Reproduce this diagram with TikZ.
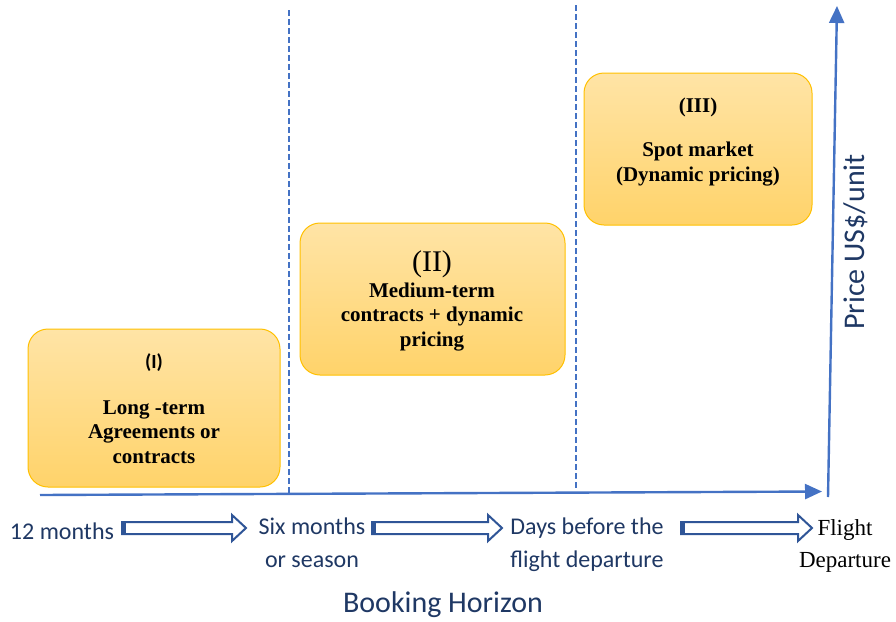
\documentclass[tikz,border=0pt]{standalone}
\usepackage{fontspec}
\setmainfont{Liberation Serif}
\newfontfamily\calfont{Carlito}
\usetikzlibrary{arrows.meta}
\definecolor{axisblue}{HTML}{4472C4}
\definecolor{navy}{HTML}{1F3864}
\definecolor{arrownavy}{HTML}{2F5597}
\definecolor{boxtop}{HTML}{FFE4A6}
\definecolor{boxbot}{HTML}{FFD36A}
\definecolor{boxline}{HTML}{FFC000}
\tikzset{
  phase/.style={draw=boxline, line width=1pt, rounded corners=20pt, top color=boxtop, bottom color=boxbot},
  axis/.style={draw=axisblue, line width=2.4pt, -{Triangle[length=17pt,width=15pt]}},
  divider/.style={draw=axisblue, line width=1.8pt, dash pattern=on 6pt off 3pt},
  boxtext/.style={font=\bfseries\fontsize{21}{24.5}\selectfont, align=center, text=black, anchor=base, inner sep=0pt},
  navytext/.style={font=\calfont\fontsize{24}{33}\selectfont, text=navy, align=center, anchor=base, inner sep=0pt},
  hollow/.style={draw=arrownavy, line width=2pt, fill=white, line join=miter},
}
\newcommand{\hollowarrow}[3]{% x1, x2, y
  \draw[hollow] (#1,#3-6) -- (#2-14,#3-6) -- (#2-14,#3-13) -- (#2,#3) -- (#2-14,#3+13) -- (#2-14,#3+6) -- (#1,#3+6) -- cycle;
  \draw[draw=arrownavy, line width=5pt] (#1+1.5,#3-6) -- (#1+1.5,#3+6);
}
\begin{document}
\begin{tikzpicture}[x=1pt,y=-1pt]
\useasboundingbox (0,0) rectangle (896,621);
% dividers
\draw[divider] (289,10) -- (289,495);
\draw[divider] (576,5) -- (576,488);
% boxes
\path[phase] (28,329) rectangle (280,487);
\path[phase] (300,223) rectangle (565,375);
\path[phase] (584,73) rectangle (812,225);
% axes
\coordinate (origin) at (40,495);
\coordinate (xend) at (822,491.5);
\coordinate (yorig) at (828,497);
\coordinate (yend) at (837,6);
\draw[axis] (origin) -- (xend);
\draw[axis] (yorig) -- (yend);
% box texts (multi-line nodes: base = last line)
\node[font=\calfont\bfseries\fontsize{20}{20}\selectfont, anchor=base, inner sep=0pt] (l1) at (154,368) {(I)};
\node[boxtext] (t1) at (154,463) {Long -term\\Agreements or\\contracts};
\node[font=\fontsize{30}{30}\selectfont, anchor=base, inner sep=0pt] (l2) at (432,271) {(II)};
\node[boxtext] (t2) at (432,346) {Medium-term\\contracts + dynamic\\pricing};
\node[boxtext] (l3) at (698,112) {(III)};
\node[boxtext] (t3) at (698,181) {Spot market\\(Dynamic pricing)};
% bottom labels
\node[navytext] (m12) at (62,539) {12 months};
\node[navytext] (six) at (312,567) {Six months\\or season};
\node[navytext] (days) at (587,567) {Days before the\\flight departure};
\node[font=\fontsize{23}{32}\selectfont, align=center, anchor=base, inner sep=0pt] (flight) at (845,567) {Flight\\Departure};
\hollowarrow{122}{246}{528}
\hollowarrow{372}{502}{528}
\hollowarrow{681}{812}{528}
\node[font=\calfont\fontsize{30}{30}\selectfont, text=navy, anchor=base, inner sep=0pt] (bh) at (443,612) {Booking Horizon};
\node[font=\calfont\fontsize{30}{30}\selectfont, text=navy, rotate=90] (price) at (856,242) {Price US\$/unit};
\end{tikzpicture}
\end{document}
